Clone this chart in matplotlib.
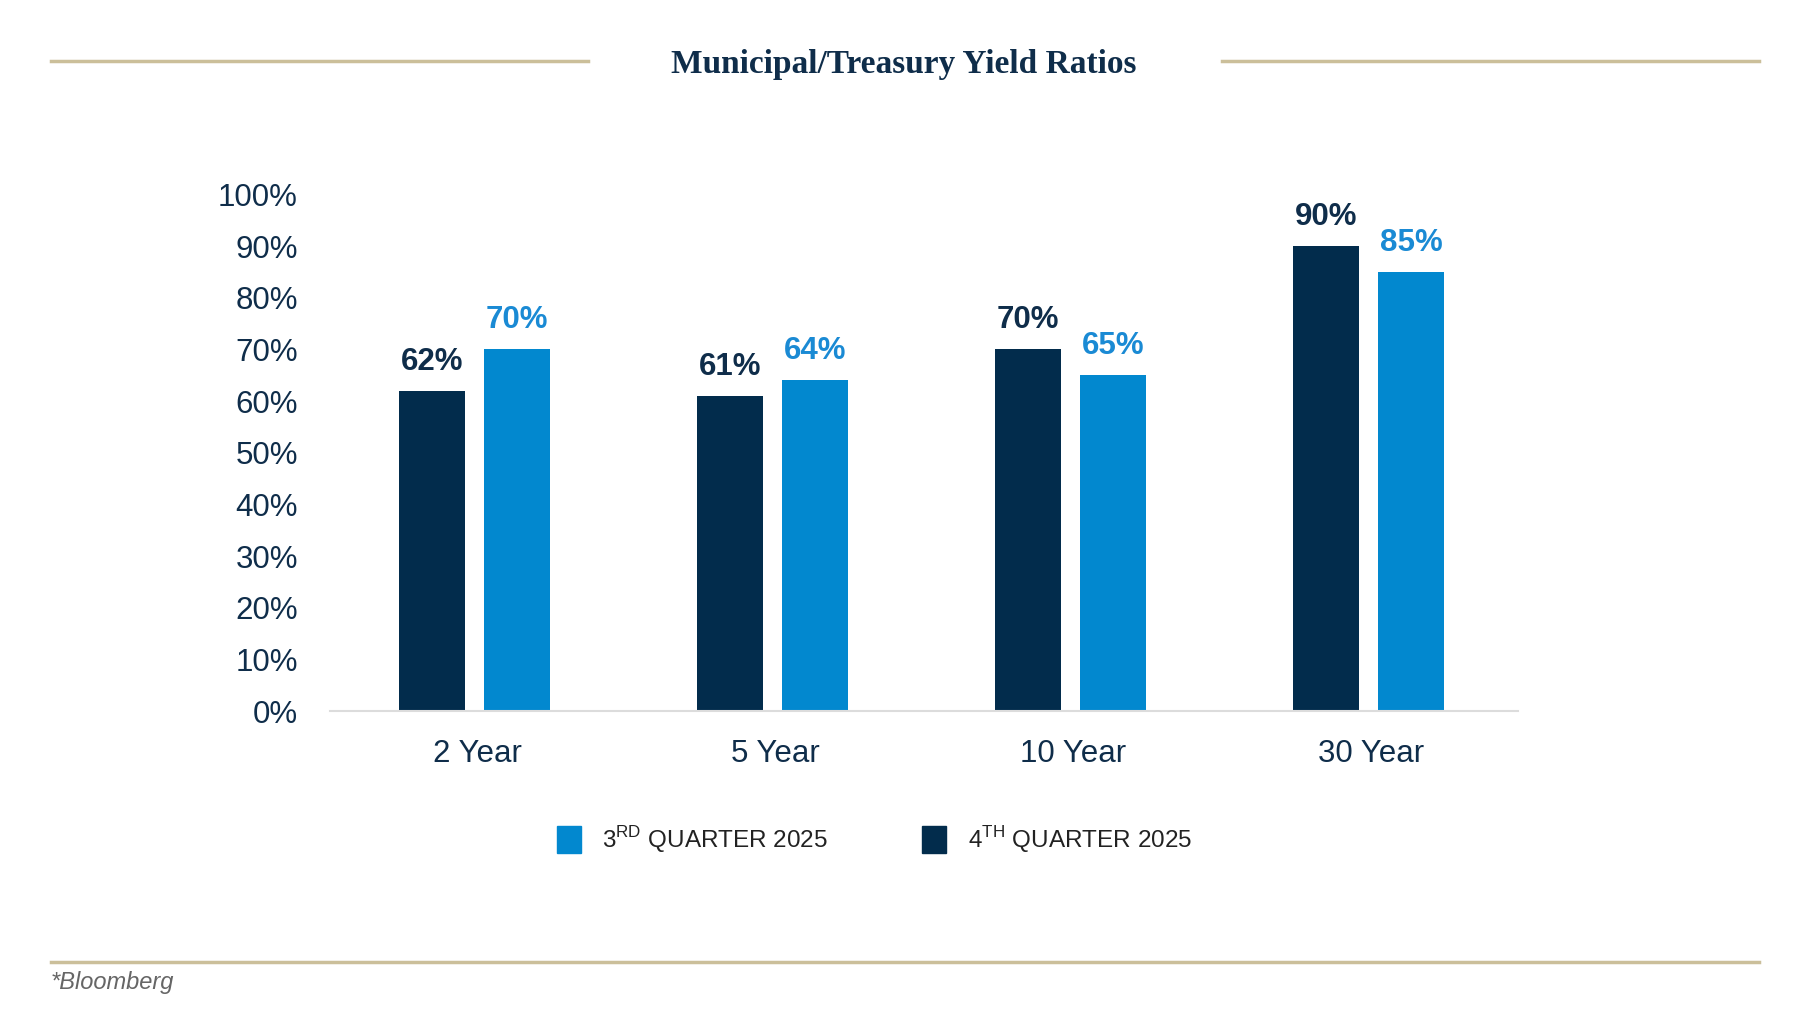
import matplotlib
matplotlib.use("Agg")
import matplotlib.pyplot as plt
import numpy as np

# Données
categories = ['2 Year', '5 Year', '10 Year', '30 Year']
q4_2025 = [62, 61, 70, 90]
q3_2025 = [70, 64, 65, 85]
y_ticks = [0, 10, 20, 30, 40, 50, 60, 70, 80, 90, 100]
label_q3 = '3$^{\\mathrm{RD}}$ QUARTER 2025'
label_q4 = '4$^{\\mathrm{TH}}$ QUARTER 2025'
title = 'Municipal/Treasury Yield Ratios'
source = '*Bloomberg'

dark = '#022c4c'
light = '#0288cf'
navy_text = '#0f2d4a'
gold = '#cbbf9a'

plt.rcParams['font.family'] = ['Liberation Sans', 'DejaVu Sans']
plt.rcParams['mathtext.fontset'] = 'custom'
plt.rcParams['mathtext.rm'] = 'Liberation Sans'

fig = plt.figure(figsize=(18.09, 10.22), dpi=100)
ax = fig.add_axes([0.1823, 0.3043, 0.8394 - 0.1823, 0.8097 - 0.3043])

x = np.arange(len(categories))
width = 0.221
off = 0.1425
bars4 = ax.bar(x - off - 0.008, q4_2025, width, color=dark)
bars3 = ax.bar(x + off - 0.008, q3_2025, width, color=light)

for b, v in zip(bars4, q4_2025):
    ax.annotate(f'{v}%', (b.get_x() + b.get_width() / 2, v), xytext=(0, 14),
                textcoords='offset pixels', ha='center', va='bottom',
                fontsize=22.5, fontweight='bold', color=navy_text, clip_on=False)
for b, v in zip(bars3, q3_2025):
    ax.annotate(f'{v}%', (b.get_x() + b.get_width() / 2, v), xytext=(0, 14),
                textcoords='offset pixels', ha='center', va='bottom',
                fontsize=22.5, fontweight='bold', color='#1a8ad4', clip_on=False)

ax.set_xlim(-0.495, 3.495)
ax.set_ylim(0, 100)
ax.set_yticks(y_ticks)
ax.set_yticklabels([f'{t}%' for t in y_ticks])
ax.set_xticks(x)
ax.set_xticklabels(categories)
ax.tick_params(axis='both', length=0, labelsize=22.5, labelcolor=navy_text)
ax.tick_params(axis='y', pad=23)
ax.tick_params(axis='x', pad=20)
for s in ['top', 'right', 'left']:
    ax.spines[s].set_visible(False)
ax.spines['bottom'].set_color('#dcdcdc')
ax.spines['bottom'].set_linewidth(1.5)

# Titre et lignes décoratives
fig.text(0.4995, 0.937, title, ha='center', va='center', fontsize=24,
         fontweight='bold', color=navy_text, family=['Liberation Serif'])
fig.add_artist(plt.Line2D([0.0282, 0.325], [0.940, 0.940], color=gold, lw=2.5))
fig.add_artist(plt.Line2D([0.6755, 0.9725], [0.940, 0.940], color=gold, lw=2.5))
fig.add_artist(plt.Line2D([0.0282, 0.9725], [0.0587, 0.0587], color=gold, lw=2.5))
fig.text(0.0282, 0.0385, source, ha='left', va='center', fontsize=17,
         style='italic', color='#666666')

# Légende
ly = 0.179
sq_w = 24 / 1809
sq_h = 27 / 1022
fig.add_artist(plt.Rectangle((557 / 1809, ly - sq_h / 2), sq_w, sq_h, color=light))
fig.add_artist(plt.Rectangle((922 / 1809, ly - sq_h / 2), sq_w, sq_h, color=dark))
fig.text(602 / 1809, ly, label_q3, ha='left', va='center', fontsize=17.5, color='#222222')
fig.text(968 / 1809, ly, label_q4, ha='left', va='center', fontsize=17.5, color='#222222')

fig.savefig('out.png', dpi=100, facecolor='white')
